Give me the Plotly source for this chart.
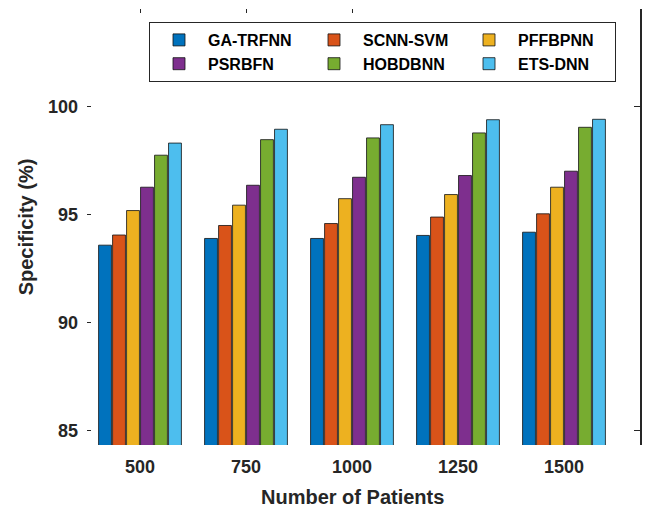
import plotly.graph_objects as go

categories = ["500", "750", "1000", "1250", "1500"]
series_names = ["GA-TRFNN", "SCNN-SVM", "PFFBPNN", "PSRBFN", "HOBDBNN", "ETS-DNN"]
series_colors = ["#0072BD", "#D95319", "#EDB120", "#7E2F8E", "#77AC30", "#4DBEEE"]

ga_trfnn = [93.59, 93.90, 93.90, 94.04, 94.19]
scnn_svm = [94.06, 94.50, 94.59, 94.89, 95.04]
pffbpnn = [95.19, 95.44, 95.74, 95.93, 96.27]
psrbfn = [96.27, 96.36, 96.73, 96.81, 97.01]
hobdbnn = [97.75, 98.47, 98.55, 98.78, 99.04]
ets_dnn = [98.31, 98.95, 99.16, 99.39, 99.41]

y_ticks = [85, 90, 95, 100]

all_series = [ga_trfnn, scnn_svm, pffbpnn, psrbfn, hobdbnn, ets_dnn]

FONT = "Liberation Sans, Arial, sans-serif"
TXT = "#262626"

fig = go.Figure()
xpos = list(range(len(categories)))
for name, color, vals in zip(series_names, series_colors, all_series):
    fig.add_trace(go.Bar(
        x=xpos, y=vals, name=name,
        marker=dict(color=color, line=dict(color="#111111", width=0.8)),
    ))

# invisible helper traces for the mirrored top ticks and right-side axis
fig.add_trace(go.Scatter(x=[None], y=[None], xaxis="x2", yaxis="y", showlegend=False, hoverinfo="skip"))
fig.add_trace(go.Scatter(x=[None], y=[None], xaxis="x", yaxis="y2", showlegend=False, hoverinfo="skip"))

yrange = [84.35, 104.51]
# page body has an 8px default margin; figure is offset accordingly
W, H = 642, 500
L, R, T, B = 79, 10, 1, 63
plot_w = W - L - R
plot_h = H - T - B
cat_px = 106.0
xrange = [-0.5, -0.5 + plot_w / cat_px]

fig.update_layout(
    width=W, height=H,
    margin=dict(l=L, r=R, t=T, b=B, autoexpand=False),
    paper_bgcolor="white", plot_bgcolor="white",
    barmode="group", bargap=0.208, bargroupgap=0.08,
    font=dict(family=FONT, color=TXT),
    xaxis=dict(
        range=xrange, automargin=False,
        tickvals=xpos, ticktext=categories,
        showline=False, showgrid=False, zeroline=False, ticks="",
        tickfont=dict(size=18, weight="bold", color=TXT),
        ticklabelstandoff=9,
    ),
    xaxis2=dict(
        overlaying="x", side="top", anchor="y", range=xrange, automargin=False,
        tickvals=[0, 1, 2], showticklabels=False, ticks="inside", ticklen=4,
        tickcolor=TXT, showline=False, showgrid=False, zeroline=False,
    ),
    yaxis=dict(
        range=yrange, tickvals=y_ticks, automargin=False,
        showline=False, showgrid=False, zeroline=False,
        ticks="inside", ticklen=4, tickcolor=TXT,
        tickfont=dict(size=18, weight="bold", color=TXT),
        ticklabelstandoff=8,
        title=dict(text="Specificity (%)", font=dict(size=20, weight="bold", color=TXT), standoff=8),
    ),
    yaxis2=dict(
        overlaying="y", side="right", anchor="x", range=yrange, automargin=False,
        tickvals=[85, 100], showticklabels=False, ticks="inside", ticklen=6,
        tickcolor=TXT, showline=True, linecolor=TXT, linewidth=1.5,
        showgrid=False, zeroline=False,
    ),
    legend=dict(
        orientation="h", x=(149 - 87) / plot_w, xanchor="left", y=(437 - 14) / plot_h, yanchor="top",
        bgcolor="white", bordercolor=TXT, borderwidth=1,
        font=dict(size=16, weight="bold", color="black", family=FONT),
        itemwidth=48, entrywidth=92, traceorder="normal",
    ),
    annotations=[dict(
        text="Number of Patients", xref="x", x=(len(categories) - 1) / 2,
        yref="paper", y=-52 / plot_h, xanchor="center", yanchor="middle",
        showarrow=False, font=dict(size=20, weight="bold", color=TXT, family=FONT),
    )],
)

fig.write_html("out.html")
